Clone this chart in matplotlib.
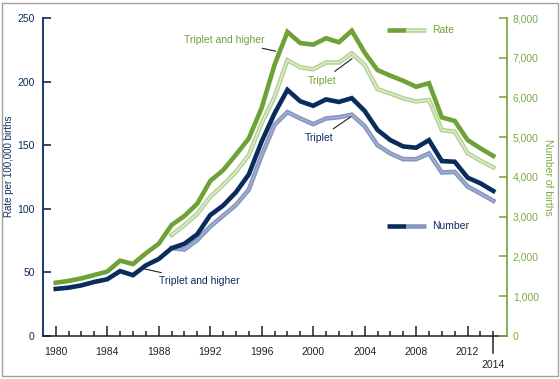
import numpy as np
import matplotlib
matplotlib.use("Agg")
import matplotlib.pyplot as plt
import matplotlib.transforms as mtransforms
from matplotlib.patches import Rectangle
from matplotlib.ticker import FuncFormatter

plt.rcParams['font.family'] = ['Liberation Sans', 'DejaVu Sans']

# data
years = list(range(1980, 2015))
years_trip = list(range(1989, 2015))

# triplet and higher, rate per 100,000 births (left axis)
rate_higher = [37.0, 38.0, 39.8, 42.5, 44.6, 51.0, 47.8, 55.5, 60.5, 69.0,
               72.5, 80.0, 95.0, 102.5, 113.0, 127.0, 153.0, 175.0, 193.5, 184.5,
               181.0, 186.0, 184.0, 187.0, 177.0, 162.0, 154.0, 149.0, 148.0, 154.0,
               137.5, 137.0, 124.5, 120.0, 114.0]
# triplet, rate (left axis)
rate_trip = [69.0, 68.0, 75.5, 86.0, 94.5, 103.0, 115.0, 142.0, 166.0, 176.0,
             171.0, 166.5, 171.0, 172.0, 174.0, 165.0, 150.0, 143.5, 139.0, 139.0,
             143.5, 128.5, 129.0, 117.5, 112.0, 106.3]
# triplet and higher, number of births (right axis)
num_higher = [1340, 1385, 1450, 1535, 1620, 1895, 1810, 2080, 2320, 2790,
              3020, 3330, 3900, 4170, 4560, 4970, 5740, 6820, 7650, 7370,
              7330, 7490, 7390, 7680, 7130, 6690, 6550, 6420, 6270, 6360,
              5500, 5410, 4930, 4720, 4530]
# triplet, number of births (right axis)
num_trip = [2540, 2790, 3070, 3500, 3800, 4130, 4550, 5350, 6020, 6940,
            6760, 6710, 6880, 6880, 7110, 6820, 6210, 6100, 5980, 5900,
            5940, 5180, 5140, 4600, 4410, 4240]

navy = '#0a2c5c'
navy_light = '#8797c0'
navy_center = '#a7b3d4'
green = '#6ea236'
green_light = '#b6d497'
green_center = '#e3efd6'
green_axis = '#7aab45'
dark = '#222222'

fig = plt.figure(figsize=(5.6, 3.79), dpi=100)
ax = fig.add_axes([0.0768, 0.1135, 0.8292, 0.839])
ax2 = ax.twinx()

# number lines on right axis
ax2.plot(years, num_higher, color=green, lw=3.3, solid_joinstyle='miter', zorder=3)
ax2.plot(years_trip, num_trip, color=green_light, lw=3.3, solid_joinstyle='miter', zorder=3)
ax2.plot(years_trip, num_trip, color=green_center, lw=0.9, zorder=4)

# rate lines on left axis
ax.plot(years_trip, rate_trip, color=navy_light, lw=3.3, solid_joinstyle='miter', zorder=3)
ax.plot(years_trip, rate_trip, color=navy_center, lw=0.9, zorder=4)
ax.plot(years, rate_higher, color=navy, lw=3.3, solid_joinstyle='miter', zorder=5)

ax.set_xlim(1979.01, 2015.09)
ax.set_ylim(0, 250)
ax2.set_ylim(0, 8000)
ax2.set_xlim(1979.01, 2015.09)

for a in (ax, ax2):
    a.spines['top'].set_visible(False)
    a.patch.set_visible(False)
ax.spines['right'].set_visible(False)
ax2.spines['left'].set_visible(False)
ax2.spines['bottom'].set_visible(False)
ax.spines['left'].set_color(navy)
ax.spines['left'].set_linewidth(1.3)
ax2.spines['right'].set_color(green_axis)
ax2.spines['right'].set_linewidth(1.3)
ax.spines['bottom'].set_color(dark)
ax.spines['bottom'].set_linewidth(1.1)

ax.set_yticks(np.arange(0, 251, 50))
ax.tick_params(axis='y', direction='in', length=6, width=1.2, color=navy,
               labelcolor=navy, labelsize=7.5, pad=6)
ax2.set_yticks(np.arange(0, 8001, 1000))
ax2.yaxis.set_major_formatter(FuncFormatter(lambda v, p: f'{int(v):,}'))
ax2.tick_params(axis='y', direction='in', length=6, width=1.2, color=green_axis,
                labelcolor=green_axis, labelsize=7.5, pad=4)

major = list(range(1980, 2013, 4))
ax.set_xticks(major)
ax.set_xticks(years, minor=True)
ax.tick_params(axis='x', which='major', direction='in', length=7, width=1.1,
               color=dark, labelcolor=dark, labelsize=7.5, pad=8)
ax.tick_params(axis='x', which='minor', direction='in', length=3.5, width=1.1,
               color=dark)

# 2014 end tick extends below the axis, label set lower
trans = mtransforms.blended_transform_factory(ax.transData, ax.transAxes)
ax.plot([years[-1], years[-1]], [-0.055, 0.0], transform=trans, color=dark,
        lw=1.1, clip_on=False)
ax.text(years[-1], -0.075, str(years[-1]), transform=trans, ha='center', va='top',
        fontsize=7.5, color=dark)

ax.set_ylabel('Rate per 100,000 births', color=navy, fontsize=7)
ax.yaxis.set_label_coords(-0.063, 0.535)
ax2.set_ylabel('Number of births', color=green_axis, fontsize=7.5, rotation=-90,
               labelpad=10)

# annotations
kw = dict(fontsize=7.5, arrowprops=dict(arrowstyle='-', color=dark, lw=0.8))
ax2.annotate('Triplet and higher', xy=(1997.3, 7150), xytext=(1996.2, 7450),
             color=green, ha='right', va='center', **kw)
ax2.annotate('Triplet', xy=(2003.2, 7020), xytext=(2001.8, 6420),
             color=green, ha='right', va='center', **kw)
ax.annotate('Triplet', xy=(2003.1, 173.5), xytext=(2001.6, 155.5),
            color=navy, ha='right', va='center', **kw)
ax.annotate('Triplet and higher', xy=(1986.7, 53.2), xytext=(1988.0, 43.2),
            color=navy, ha='left', va='center', **kw)

# legend drawn as split line segments
ax2.plot([2005.77, 2007.25], [7700, 7700], color=green, lw=3.3, solid_capstyle='butt')
ax2.plot([2007.25, 2008.73], [7700, 7700], color=green_light, lw=3.3, solid_capstyle='butt')
ax2.plot([2007.25, 2008.73], [7700, 7700], color=green_center, lw=0.9, solid_capstyle='butt')
ax2.text(2009.26, 7700, 'Rate', color=green, fontsize=7.5, va='center')
ax.plot([2005.77, 2007.25], [86.5, 86.5], color=navy, lw=3.3, solid_capstyle='butt')
ax.plot([2007.25, 2008.73], [86.5, 86.5], color=navy_light, lw=3.3, solid_capstyle='butt')
ax.text(2009.26, 86.5, 'Number', color=navy, fontsize=7.5, va='center')

# outer border
fig.patches.append(Rectangle((0.003, 0.007), 0.994, 0.985, transform=fig.transFigure,
                             fill=False, edgecolor='#a0a0a0', lw=1.0))

fig.savefig('out.png', dpi=100)
